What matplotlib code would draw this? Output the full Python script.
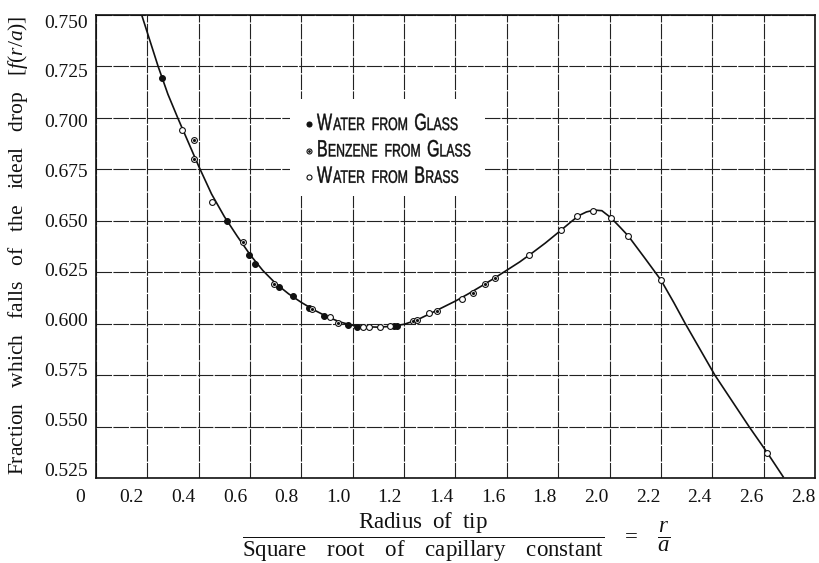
import numpy as np
import matplotlib
matplotlib.use("Agg")
import matplotlib.pyplot as plt
from matplotlib.font_manager import FontProperties
from matplotlib.lines import Line2D
from matplotlib.patches import PathPatch
from matplotlib.textpath import TextPath
from matplotlib.transforms import Affine2D
from matplotlib.offsetbox import AnchoredOffsetbox, HPacker, VPacker, DrawingArea

# fitted curve
curve_x = [0.178, 0.242, 0.280, 0.320, 0.360, 0.400, 0.450, 0.500, 0.550, 0.600,
           0.650, 0.700, 0.750, 0.800, 0.850, 0.900, 0.950, 1.000, 1.050, 1.100,
           1.150, 1.200, 1.250, 1.300, 1.350, 1.400, 1.450, 1.500, 1.550, 1.600,
           1.650, 1.700, 1.750, 1.800, 1.850, 1.880, 1.910, 1.940, 1.970, 2.005,
           2.040, 2.073, 2.137, 2.200, 2.250, 2.294, 2.410, 2.543, 2.614, 2.676]
curve_y = [0.7500, 0.7250, 0.7115, 0.6995, 0.6880, 0.6765, 0.6630, 0.6520, 0.6425, 0.6335,
           0.6258, 0.6195, 0.6145, 0.6103, 0.6066, 0.6034, 0.6008, 0.5992, 0.5985, 0.5983,
           0.5987, 0.5997, 0.6018, 0.6048, 0.6079, 0.6110, 0.6145, 0.6182, 0.6220, 0.6260,
           0.6300, 0.6345, 0.6392, 0.6443, 0.6495, 0.6525, 0.6543, 0.6552, 0.6549, 0.6515,
           0.6470, 0.6426, 0.6319, 0.6212, 0.6103, 0.6002, 0.5750, 0.5500, 0.5373, 0.5256]

# water from glass (filled)
wg_x = [0.256, 0.511, 0.597, 0.620, 0.714, 0.768, 0.831, 0.888, 0.982, 1.018, 1.160, 1.171]
wg_y = [0.7195, 0.650, 0.6332, 0.6288, 0.618, 0.6134, 0.6075, 0.6037, 0.5993, 0.5982, 0.5988, 0.5988]

# benzene from glass
bg_x = [0.383, 0.380, 0.574, 0.693, 0.840, 0.944, 1.236, 1.249, 1.327, 1.467, 1.515, 1.554]
bg_y = [0.6893, 0.680, 0.6397, 0.6193, 0.6070, 0.6002, 0.6011, 0.6018, 0.6063, 0.6147, 0.6191, 0.6223]

# water from brass (open)
wb_x = [0.336, 0.453, 0.911, 1.039, 1.064, 1.105, 1.145, 1.298, 1.426, 1.687, 1.811,
        1.872, 1.937, 2.005, 2.073, 2.200, 2.614]
wb_y = [0.6941, 0.6591, 0.6031, 0.5982, 0.5982, 0.5985, 0.5988, 0.6053, 0.6121, 0.6334, 0.6455,
        0.6525, 0.6547, 0.6512, 0.6426, 0.6212, 0.5373]

x_ticks = [0, 0.2, 0.4, 0.6, 0.8, 1.0, 1.2, 1.4, 1.6, 1.8, 2.0, 2.2, 2.4, 2.6, 2.8]
x_labels = ['0', '0.2', '0.4', '0.6', '0.8', '1.0', '1.2', '1.4', '1.6', '1.8',
            '2.0', '2.2', '2.4', '2.6', '2.8']
y_ticks = [0.525, 0.550, 0.575, 0.600, 0.625, 0.650, 0.675, 0.700, 0.725, 0.750]
y_labels = ['0.525', '0.550', '0.575', '0.600', '0.625', '0.650', '0.675', '0.700', '0.725', '0.750']

legend_labels = ['Water from Glass', 'Benzene from Glass', 'Water from Brass']

serif = 'Liberation Serif'
plt.rcParams['font.family'] = serif
plt.rcParams['mathtext.fontset'] = 'custom'
plt.rcParams['mathtext.rm'] = serif
plt.rcParams['mathtext.it'] = serif + ':italic'
plt.rcParams['mathtext.bf'] = serif + ':bold'

ink = '#111111'
fig = plt.figure(figsize=(8.19, 5.63), dpi=100)
ax = fig.add_axes([96/819, 1 - 478/563, (815 - 96)/819, (478 - 15)/563])

ax.plot(curve_x, curve_y, color=ink, lw=1.2, zorder=3)
ax.plot(wg_x, wg_y, 'o', ms=4.2, mfc=ink, mec=ink, mew=0.8, zorder=4)
ax.plot(bg_x, bg_y, 'o', ms=4.2, mfc='white', mec=ink, mew=0.8, zorder=4)
ax.plot(bg_x, bg_y, '.', ms=2.5, color=ink, zorder=5)
ax.plot(wb_x, wb_y, 'o', ms=4.2, mfc='white', mec=ink, mew=0.8, zorder=4)

ax.set_xlim(0, 2.8)
ax.set_ylim(0.525, 0.750)
ax.set_xticks(x_ticks)
ax.set_yticks(y_ticks)
ax.set_xticklabels([])
ax.set_yticklabels([])
ax.tick_params(length=0)
ax.grid(True, color='#222222', lw=0.8, linestyle=(0, (14, 1.2)))
for s in ax.spines.values():
    s.set_color(ink)
    s.set_linewidth(1.2)

# the printed tick figures sit a little off their rulings
for k, (xv, lab) in enumerate(zip(x_ticks, x_labels)):
    dx = (-16 + 4 * k / 14) * 0.72
    ax.annotate(lab, xy=(xv, 0), xycoords=('data', 'axes fraction'), xytext=(dx, -14.4),
                textcoords='offset points', ha='center', va='center', fontsize=14,
                color=ink, annotation_clip=False)
for k, (yv, lab) in enumerate(zip(y_ticks, y_labels)):
    dy = (7 - 15 * k / 9) * 0.72
    ax.annotate(lab, xy=(0, yv), xycoords=('axes fraction', 'data'), xytext=(-5.8, dy),
                textcoords='offset points', ha='right', va='center', fontsize=14,
                color=ink, annotation_clip=False)

# hand-lettered small caps legend on a white patch that breaks the grid
lprop = FontProperties(family='Liberation Sans')


def lettering(label, big=17, small=13, squeeze=0.68):
    paths = []
    x = 0
    for k, word in enumerate(label.split()):
        if k:
            x += 4.5
        if word[0].isupper():
            pieces = [(word[0], big), (word[1:].upper(), small)]
        else:
            pieces = [(word.upper(), small)]
        for s, size in pieces:
            tp = TextPath((0, 0), s, size=size, prop=lprop)
            p = Affine2D().scale(squeeze, 1).translate(x, 0).transform_path(tp)
            paths.append(p)
            x = p.get_extents().x1 + 0.8
    da = DrawingArea(x, big * 0.75, 0, 0)
    for p in paths:
        da.add_artist(PathPatch(p, fc=ink, ec=ink, lw=0.3))
    return da


styles = [dict(mfc=ink, mec=ink), dict(mfc='white', mec=ink), dict(mfc='white', mec=ink)]
rows = []
for lab, st in zip(legend_labels, styles):
    mk = DrawingArea(8, 8, 0, 0)
    mk.add_artist(Line2D([4], [4], marker='o', ms=3.6, mew=0.8, ls='none', **st))
    if lab.startswith('Benzene'):
        mk.add_artist(Line2D([4], [4], marker='.', ms=2, color=ink, ls='none'))
    rows.append(HPacker(children=[mk, lettering(lab)], align='bottom', pad=0, sep=1.8))
vbox = VPacker(children=rows, align='left', pad=0, sep=6.25)
box = AnchoredOffsetbox(loc='upper left', child=vbox, pad=0.96, borderpad=0, frameon=True,
                        bbox_to_anchor=(290/819, 1 - 99/563), bbox_transform=fig.transFigure)
box.patch.set_facecolor('white')
box.patch.set_edgecolor('none')
box.set_zorder(6)
ax.add_artist(box)

fig.text(0.022, 0.565, r'Fraction   which   falls   of   the   ideal   drop   $[f(r/a)]$',
         rotation=90, ha='center', va='center', fontsize=15.5, color=ink)
fig.text(0.557, 0.046,
         r'$\dfrac{\mathrm{Radius\ \ of\ \ tip}}'
         r'{\mathrm{Square\quad\;root\quad\;of\quad\;capillary\quad\;constant}}'
         r'\quad=\quad\dfrac{r}{a}$',
         ha='center', va='center', fontsize=16.5, color=ink)

fig.savefig('out.png', dpi=100, facecolor='white')
